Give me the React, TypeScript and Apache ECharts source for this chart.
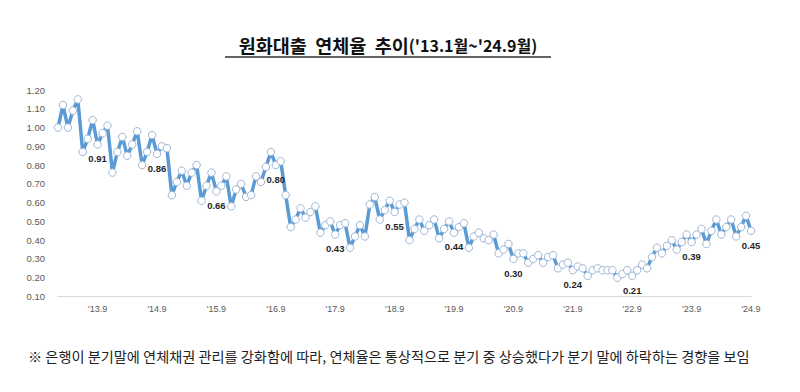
import React, { useEffect, useRef } from "react";
import * as echarts from "echarts";

const years = [2013, 2014, 2015, 2016, 2017, 2018, 2019, 2020, 2021, 2022, 2023, 2024];
const rate2013 = [1.0, 1.12, 1.0, 1.09, 1.15, 0.87, 0.94, 1.04, 0.91, 0.97, 1.01, 0.76];
const rate2014 = [0.87, 0.95, 0.85, 0.91, 0.98, 0.8, 0.87, 0.96, 0.86, 0.9, 0.89, 0.64];
const rate2015 = [0.71, 0.77, 0.69, 0.76, 0.8, 0.61, 0.69, 0.76, 0.66, 0.69, 0.74, 0.58];
const rate2016 = [0.67, 0.7, 0.63, 0.64, 0.74, 0.71, 0.79, 0.87, 0.8, 0.82, 0.64, 0.47];
const rate2017 = [0.51, 0.57, 0.52, 0.55, 0.58, 0.44, 0.48, 0.5, 0.43, 0.48, 0.49, 0.36];
const rate2018 = [0.42, 0.48, 0.42, 0.59, 0.63, 0.51, 0.56, 0.61, 0.55, 0.59, 0.6, 0.4];
const rate2019 = [0.46, 0.51, 0.45, 0.48, 0.51, 0.41, 0.46, 0.5, 0.44, 0.47, 0.49, 0.36];
const rate2020 = [0.42, 0.44, 0.41, 0.4, 0.43, 0.33, 0.35, 0.38, 0.3, 0.33, 0.33, 0.28];
const rate2021 = [0.3, 0.32, 0.28, 0.31, 0.32, 0.25, 0.27, 0.28, 0.24, 0.26, 0.25, 0.21];
const rate2022 = [0.24, 0.25, 0.24, 0.24, 0.24, 0.2, 0.22, 0.24, 0.21, 0.24, 0.27, 0.25];
const rate2023 = [0.31, 0.36, 0.33, 0.37, 0.4, 0.35, 0.39, 0.43, 0.39, 0.43, 0.46, 0.38];
const rate2024 = [0.45, 0.51, 0.43, 0.47, 0.51, 0.42, 0.47, 0.53, 0.45];

const ratesByYear = [
  rate2013, rate2014, rate2015, rate2016, rate2017, rate2018,
  rate2019, rate2020, rate2021, rate2022, rate2023, rate2024,
];

const labelMonth = 9;
const titleMain = "원화대출  연체율  추이";
const titleSub = "('13.1월~'24.9월)";
const footnote =
  "※ 은행이 분기말에 연체채권 관리를 강화함에 따라, 연체율은 통상적으로 분기 중 상승했다가 분기 말에 하락하는 경향을 보임";

const categories: string[] = [];
const months: number[] = [];
const values: number[] = [];
years.forEach((y, yi) => {
  ratesByYear[yi].forEach((v, mi) => {
    categories.push("'" + String(y).slice(2) + "." + (mi + 1));
    months.push(mi + 1);
    values.push(v);
  });
});

const KR = "'Noto Sans CJK KR', 'Noto Sans', sans-serif";

export default function App() {
  const ref = useRef<HTMLDivElement>(null);
  useEffect(() => {
    document.body.style.margin = "0";
    const chart = echarts.init(ref.current!, null, { renderer: "svg" });
    chart.setOption({
      animation: false,
      backgroundColor: "#ffffff",
      grid: { left: 58, right: 49, top: 90, bottom: 95.5, containLabel: false },
      xAxis: {
        type: "category",
        boundaryGap: false,
        data: categories,
        axisLine: { show: true, lineStyle: { color: "#d9d9d9", width: 1 } },
        axisTick: { show: false },
        axisLabel: {
          interval: (idx: number) => months[idx] === labelMonth,
          color: "#595959",
          fontSize: 9,
          fontFamily: "'Liberation Sans', Arial, sans-serif",
          margin: 8,
        },
        splitLine: { show: false },
      },
      yAxis: {
        type: "value",
        min: 0.1,
        max: 1.2,
        interval: 0.1,
        axisLine: { show: false },
        axisTick: { show: false },
        splitLine: { show: false },
        axisLabel: {
          formatter: (v: number) => v.toFixed(2),
          color: "#595959",
          fontSize: 9.5,
          fontFamily: "'Liberation Sans', Arial, sans-serif",
          margin: 13,
        },
      },
      series: [
        {
          type: "line",
          data: values.map((v, i) =>
            months[i] === labelMonth
              ? { value: v, label: { show: true } }
              : { value: v }
          ),
          lineStyle: { color: "#5b9bd5", width: 3.5 },
          itemStyle: { color: "#ffffff", borderColor: "#9db7d8", borderWidth: 1 },
          symbol: "circle",
          symbolSize: 7.5,
          showAllSymbol: true,
          label: {
            show: false,
            position: "bottom",
            distance: 5,
            fontSize: 9.5,
            fontWeight: "bold",
            color: "#262626",
            fontFamily: "'Liberation Sans', Arial, sans-serif",
            formatter: (p: any) => Number(p.value).toFixed(2),
          },
          z: 3,
        },
      ],
      graphic: [
        {
          type: "text",
          x: 388,
          y: 45,
          style: {
            text: "{a|" + titleMain + "}{b|" + titleSub + "}",
            textAlign: "center",
            textVerticalAlign: "middle",
            rich: {
              a: { fontSize: 18.5, fontWeight: "bold", fontFamily: KR, fill: "#111" },
              b: { fontSize: 16, fontWeight: "bold", fontFamily: KR, fill: "#111" },
            },
          },
        },
        {
          type: "line",
          shape: { x1: 225, y1: 57, x2: 551, y2: 57 },
          style: { stroke: "#333", lineWidth: 1.5 },
        },
        {
          type: "text",
          x: 28,
          y: 356,
          style: {
            text: footnote,
            fontSize: 14.2,
            fontFamily: KR,
            fill: "#222",
            textAlign: "left",
            textVerticalAlign: "middle",
          },
        },
      ],
    });
    return () => chart.dispose();
  }, []);
  return <div ref={ref} style={{ width: 800, height: 392 }} />;
}
